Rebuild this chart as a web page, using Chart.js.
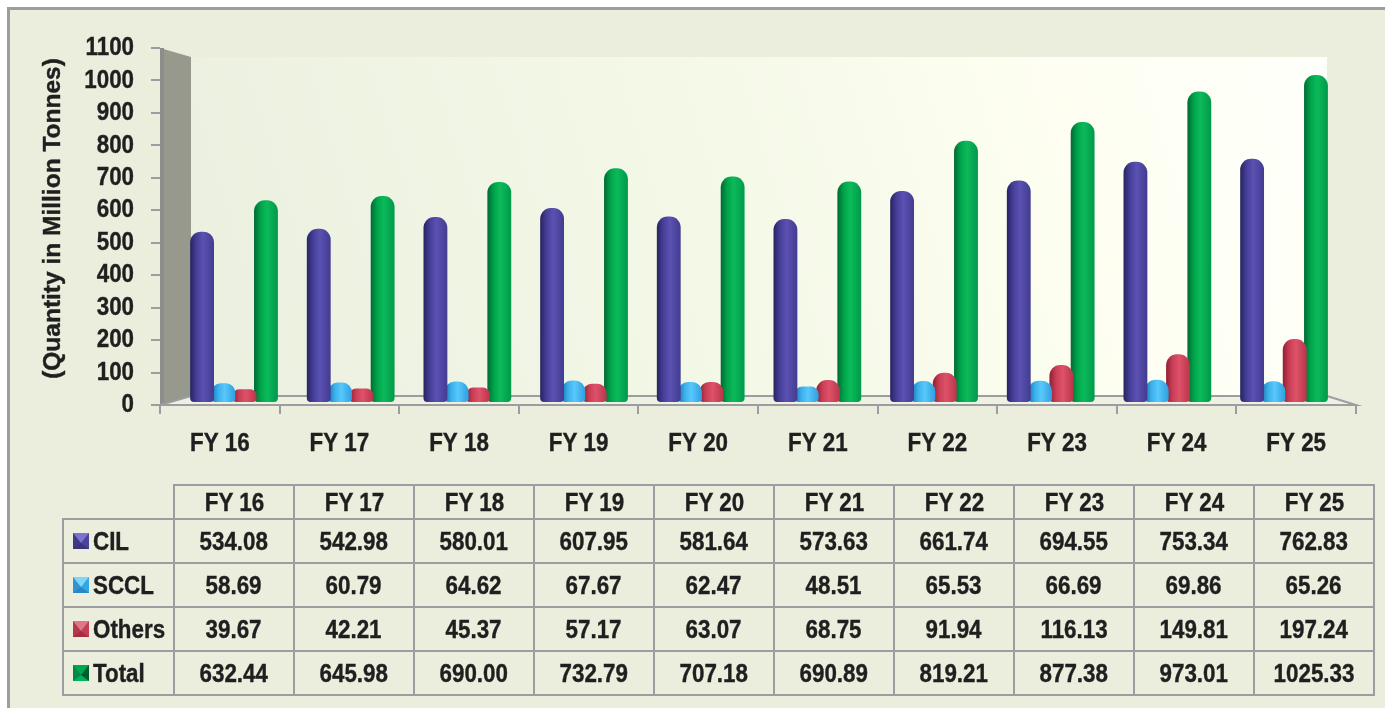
<!DOCTYPE html>
<html>
<head>
<meta charset="utf-8">
<script src="https://cdn.jsdelivr.net/npm/chart.js@4"></script>
<style>
  html, body { margin: 0; padding: 0; background: #fff; overflow: hidden; }
  #frame { position: absolute; left: 7px; top: 7px; width: 1378px; height: 701px; background: #ebeedd; border: solid #9b9d9f; border-width: 3px 0 0 3px; box-sizing: border-box; }
  #wrap { position: absolute; left: 0; top: 0; width: 1385px; height: 708px; }
  #data-table { position: absolute; left: 62px; top: 484px; width: 1311px; border-collapse: collapse; table-layout: fixed; font: bold 26px "Liberation Sans", Arial, sans-serif; color: #1f1f1f; -webkit-text-stroke: 0.4px #1f1f1f; }
  #data-table td, #data-table th { border: 2px solid #9b9da1; padding: 0; text-align: center; font-weight: bold; overflow: hidden; white-space: nowrap; }
  #data-table th.blank { border: 0; border-bottom: 2px solid #9b9da1; }
  #data-table td.name { text-align: left; padding-left: 9px; }
  .narrow { display: inline-block; transform: scaleX(0.86); }
  td.name .narrow { transform-origin: left center; }
  .mark { display: inline-block; width: 0; height: 0; border-style: solid; border-width: 10px 8px 6px 8px; margin-right: 4px; vertical-align: 1px; }
</style>
</head>
<body>
<div id="frame"></div>
<div id="wrap"><canvas id="chart" width="1385" height="708"></canvas></div>
<table id="data-table"></table>
<script>
const years = ['FY 16','FY 17','FY 18','FY 19','FY 20','FY 21','FY 22','FY 23','FY 24','FY 25'];
const cil = [534.08,542.98,580.01,607.95,581.64,573.63,661.74,694.55,753.34,762.83];
const sccl = [58.69,60.79,64.62,67.67,62.47,48.51,65.53,66.69,69.86,65.26];
const others = [39.67,42.21,45.37,57.17,63.07,68.75,91.94,116.13,149.81,197.24];
const total = [632.44,645.98,690.00,732.79,707.18,690.89,819.21,877.38,973.01,1025.33];
const yTitle = '(Quantity in Million Tonnes)';

// left to right colours across a bar, then marker colours top/right/bottom/left
const cilColors = ['#262460','#47409a','#5b51b2','#423c90'];
const scclColors = ['#1875b2','#3bb0ea','#58c8fb','#2f9fe0'];
const othersColors = ['#8f1f33','#cb3f56','#de5269','#bb354b'];
const totalColors = ['#006a34','#00a54b','#0cba5a','#00994a'];

const series = [
  {name: 'CIL', values: cil, colors: cilColors, mark: ['#7d72cf','#4a4399','#393478','#3f3a86']},
  {name: 'SCCL', values: sccl, colors: scclColors, mark: ['#7fd6fb','#33a6e4','#2a86c4','#2f94d4']},
  {name: 'Others', values: others, colors: othersColors, mark: ['#e0768a','#c23f55','#a52e42','#b3394d']},
  {name: 'Total', values: total, colors: totalColors, mark: ['#00a653','#005c2e','#00b25a','#008a45']}
];

// table under the chart
const table = document.getElementById('data-table');
let html = '<colgroup><col style="width:111px">' + years.map(() => '<col style="width:120px">').join('') + '</colgroup>';
html += '<tr style="height:34px"><th class="blank"></th>' + years.map(y => '<th><span class="narrow">' + y + '</span></th>').join('') + '</tr>';
series.forEach(function(s) {
  const m = s.mark;
  html += '<tr style="height:44px"><td class="name"><span class="mark" style="border-color:' + m.join(' ') + '"></span><span class="narrow">' + s.name + '</span></td>';
  s.values.forEach(function(v) { html += '<td><span class="narrow">' + v.toFixed(2) + '</span></td>'; });
  html += '</tr>';
});
table.innerHTML = html;

const chartFont = {family: '"Liberation Sans", Arial, sans-serif', weight: 'bold', size: 26};
const textSqueeze = 0.86;
// bars sit further back than the front axis, so they are spread a bit less
const barSpread = 0.9755;
const barShift = 19.6;
const catPercent = 0.73;
const barPercent = 1.12;

function barGradient(context, colors) {
  const chart = context.chart;
  const xScale = chart.scales.x;
  if (context.dataIndex === undefined || !xScale) return colors[1];
  const slot = xScale.width / years.length * catPercent / 4;
  const center = xScale.getPixelForValue(context.dataIndex) + (context.datasetIndex - 1.5) * slot;
  const half = slot * barPercent / 2;
  if (!Number.isFinite(center) || !Number.isFinite(half)) return colors[1];
  const g = chart.ctx.createLinearGradient(center - half, 0, center + half, 0);
  g.addColorStop(0, colors[0]);
  g.addColorStop(0.28, colors[1]);
  g.addColorStop(0.55, colors[2]);
  g.addColorStop(1, colors[3]);
  return g;
}

// no narrow font on the machine, so squeeze canvas text around its anchor
const narrowTextPlugin = {
  id: 'narrowText',
  beforeInit(chart) {
    const ctx = chart.ctx;
    const fill = ctx.fillText.bind(ctx);
    ctx.fillText = function(text, x, y) {
      const isTitle = text === yTitle;
      ctx.save();
      // the title sits a bit above the middle of the axis
      ctx.translate(isTitle ? x + 8 : x, y);
      ctx.scale(isTitle ? 1 : textSqueeze, 1);
      ctx.strokeStyle = ctx.fillStyle;
      ctx.lineWidth = 0.4;
      ctx.strokeText(text, 0, 0);
      fill(text, 0, 0);
      ctx.restore();
    };
  }
};

// back wall, side wall and floor, behind the bars
const roomPlugin = {
  id: 'room',
  beforeDatasetsDraw(chart) {
    const ctx = chart.ctx;
    const a = chart.chartArea;
    const backLeft = a.left + 31, backTop = a.top + 9, backBottom = a.bottom - 9, backRight = a.right - 29;
    ctx.save();
    const wall = ctx.createLinearGradient(backLeft, backBottom, backRight, backTop);
    wall.addColorStop(0, '#ebefdf');
    wall.addColorStop(0.5, '#f5f9e8');
    wall.addColorStop(0.78, '#fefff2');
    wall.addColorStop(1, '#fffffa');
    ctx.fillStyle = wall;
    ctx.fillRect(backLeft, backTop, backRight - backLeft, backBottom - backTop);

    ctx.fillStyle = '#96998c';
    ctx.beginPath();
    ctx.moveTo(a.left, a.top);
    ctx.lineTo(backLeft, backTop);
    ctx.lineTo(backLeft, backBottom);
    ctx.lineTo(a.left, a.bottom);
    ctx.closePath();
    ctx.fill();
    ctx.fillStyle = '#8b8e8b';
    ctx.fillRect(a.left, a.top, 4, a.bottom - a.top);

    ctx.beginPath();
    ctx.moveTo(a.left, a.bottom);
    ctx.lineTo(backLeft, backBottom);
    ctx.lineTo(backRight, backBottom);
    ctx.lineTo(a.right, a.bottom);
    ctx.closePath();
    ctx.fillStyle = '#eef1e2';
    ctx.fill();
    ctx.strokeStyle = '#9b9da1';
    ctx.lineWidth = 2;
    ctx.stroke();
    ctx.restore();

    ctx.save();
    ctx.translate(barShift, 0);
    ctx.scale(barSpread, 1);
  },
  afterDatasetsDraw(chart) {
    chart.ctx.restore();
  }
};

new Chart(document.getElementById('chart'), {
  type: 'bar',
  data: {
    labels: years,
    datasets: series.map(function(s) {
      return {
        label: s.name,
        data: s.values,
        yAxisID: 'yBars',
        backgroundColor: (c) => barGradient(c, s.colors),
        borderSkipped: false,
        borderRadius: {topLeft: 11, topRight: 11, bottomLeft: 4, bottomRight: 4},
        categoryPercentage: catPercent,
        barPercentage: barPercent
      };
    })
  },
  plugins: [narrowTextPlugin, roomPlugin],
  options: {
    responsive: false,
    animation: false,
    layout: {padding: {left: 0, top: 48, right: 29, bottom: 0}},
    plugins: {legend: {display: false}, tooltip: {enabled: false}},
    scales: {
      x: {
        afterFit(scale) { scale.height = 303; },
        grid: {drawOnChartArea: false, color: '#9b9da1', lineWidth: 2, tickLength: 9},
        border: {color: '#9b9da1', width: 2},
        ticks: {color: '#1f1f1f', font: chartFont, padding: 14, maxRotation: 0}
      },
      y: {
        min: 0,
        max: 1100,
        afterFit(scale) { scale.width = 160; },
        grid: {drawOnChartArea: false, color: '#9b9da1', lineWidth: 2, tickLength: 9},
        border: {display: false},
        ticks: {color: '#1f1f1f', font: chartFont, padding: 17, stepSize: 100, autoSkip: false, format: {useGrouping: false}},
        title: {display: true, text: yTitle, color: '#1f1f1f', font: {family: chartFont.family, weight: 'bold', size: 24.5}, padding: {top: 39, bottom: 0}}
      },
      // bars stand a little behind the front edge, so their own hidden scale
      yBars: {
        display: false,
        min: -9.4,
        max: 1109.7
      }
    }
  }
});
</script>
</body>
</html>
